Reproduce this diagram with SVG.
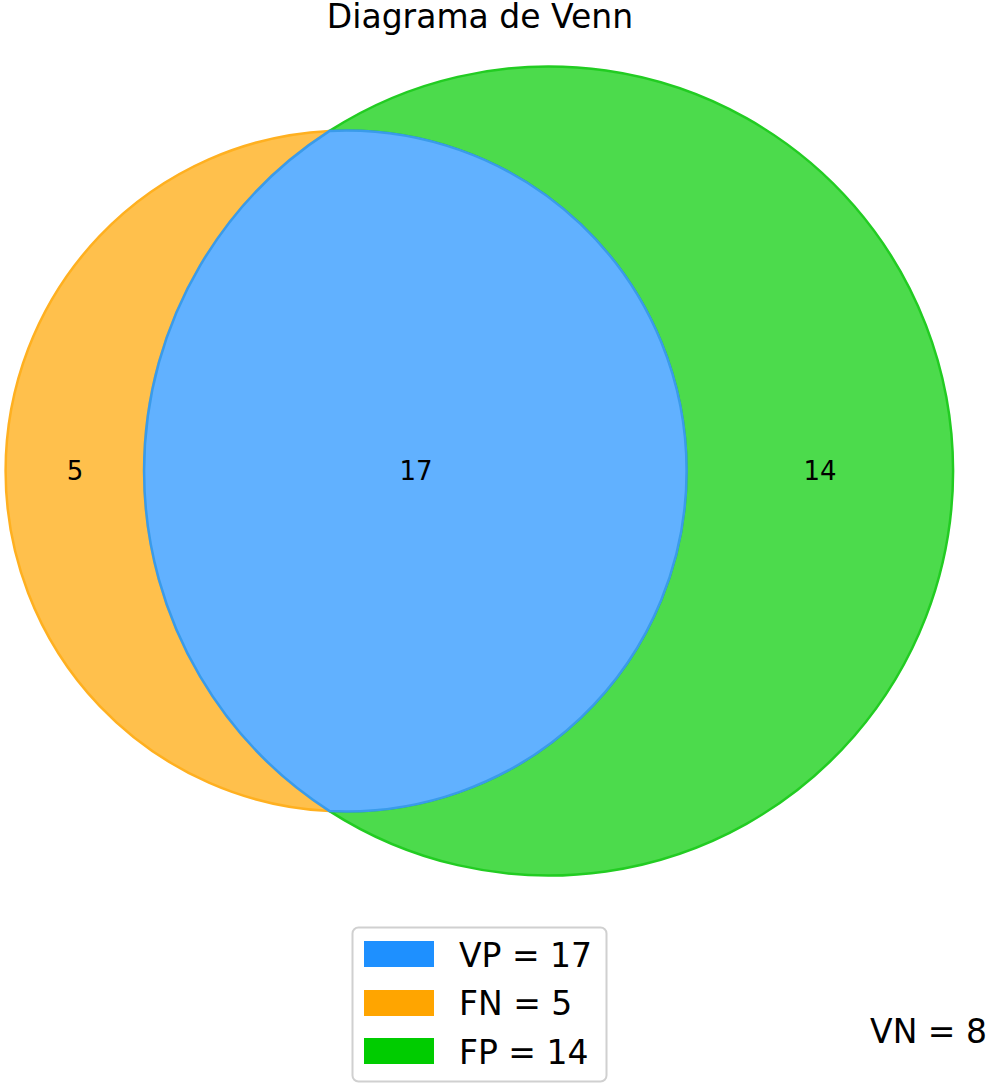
<svg xmlns="http://www.w3.org/2000/svg" width="990" height="1085" viewBox="0 0 990 1085">
<style>
text{font-family:"DejaVu Sans","Liberation Sans",sans-serif;fill:#000}
.lbl{font-size:26px;text-anchor:middle}
.leg{font-size:33px}
.reg{stroke-width:2.5;stroke-linejoin:round}
</style>
<rect width="990" height="1085" fill="#fff"/>
<text x="480" y="28" font-size="33" text-anchor="middle">Diagrama de Venn</text>
<g id="fn-region">
<path class="reg" d="M329.6 130.9 A340.5 340.5 0 0 0 329.6 811.1 A404.5 404.5 0 0 1 329.6 130.9 Z" fill="#FFC04C" stroke="#FFB020"/>
<text class="lbl" x="75" y="480">5</text>
</g>
<g id="fp-region">
<path class="reg" d="M329.6 130.9 A404.5 404.5 0 1 1 329.6 811.1 A340.5 340.5 0 1 0 329.6 130.9 Z" fill="#4CDB4C" stroke="#22CC22"/>
<text class="lbl" x="820" y="480">14</text>
</g>
<g id="vp-region">
<path class="reg" d="M329.6 130.9 A340.5 340.5 0 1 1 329.6 811.1 A404.5 404.5 0 0 1 329.6 130.9 Z" fill="#61B1FF" stroke="#3A9BEA"/>
<text class="lbl" x="416" y="480">17</text>
</g>
<g id="legend">
<rect x="352.5" y="927.5" width="254" height="154" rx="6" fill="#fff" stroke="#d0d0d0" stroke-width="2"/>
<rect x="364" y="941" width="70" height="26" fill="#1E90FF"/>
<rect x="364" y="990" width="70" height="26" fill="#FFA500"/>
<rect x="364" y="1038" width="70" height="26" fill="#00CC00"/>
<text class="leg" x="459" y="967">VP = 17</text>
<text class="leg" x="459" y="1015">FN = 5</text>
<text class="leg" x="459" y="1064">FP = 14</text>
</g>
<g id="vn">
<text class="leg" x="987" y="1043" text-anchor="end">VN = 8</text>
</g>
<g id="connectors"/>
</svg>
